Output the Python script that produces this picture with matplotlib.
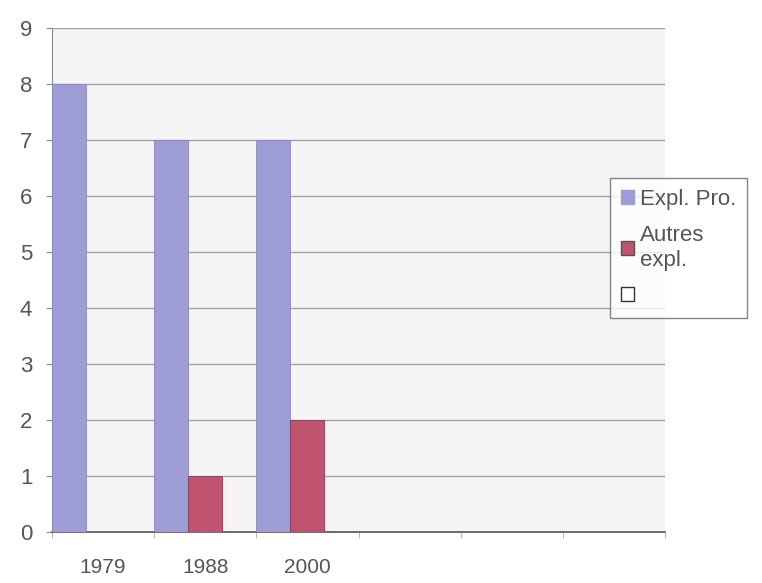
import matplotlib
matplotlib.use("Agg")
import matplotlib.pyplot as plt
import numpy as np
from matplotlib.patches import Patch

categories = ["1979", "1988", "2000", "", "", ""]
expl_pro = [8, 7, 7, 0, 0, 0]
autres = [0, 1, 2, 0, 0, 0]
series_names = ["Expl. Pro.", "Autres\nexpl.", ""]

plt.rcParams['font.family'] = ['Liberation Sans', 'DejaVu Sans']

fig = plt.figure(figsize=(7.62, 5.83), dpi=100)
ax = fig.add_axes([0.068, 0.0875, 0.805, 0.8645])

x = np.arange(len(categories))
w = 1/3
blue = '#9d9cd4'
red = '#c05470'
ax.bar(x - w, expl_pro, width=w, color=blue, edgecolor='#8a89c0', linewidth=0.6, zorder=3)
ax.bar(x, autres, width=w, color=red, edgecolor='#8a3a52', linewidth=0.6, zorder=3)

ax.set_xlim(-0.5, len(categories) - 0.5)
ax.set_ylim(0, 9)
ax.set_yticks(range(10))
ax.yaxis.grid(True, color='#a0a0a0', linewidth=1.0, zorder=0)
ax.set_axisbelow(True)
ax.set_facecolor('#f5f5f5')

ax.set_xticks(x)
ax.set_xticklabels(categories)
ax.set_xticks(np.arange(len(categories) + 1) - 0.5, minor=True)
ax.tick_params(axis='x', which='major', length=0, pad=19, labelsize=15, labelcolor='#555555')
ax.tick_params(axis='x', which='minor', length=4, color='#aaaaaa', direction='out')
ax.tick_params(axis='y', length=4, color='#888888', labelsize=16, labelcolor='#555555', pad=10)

for s in ['top', 'right']:
    ax.spines[s].set_visible(False)
ax.spines['left'].set_color('#888888')
ax.spines['bottom'].set_color('#555555')
ax.spines['bottom'].set_linewidth(1.2)

handles = [Patch(facecolor=blue, edgecolor=blue),
           Patch(facecolor=red, edgecolor='#555555'),
           Patch(facecolor='white', edgecolor='#333333')]
leg = fig.legend(handles, series_names, loc='upper left', bbox_to_anchor=(0.80, 0.695),
                 borderaxespad=0, frameon=True, fancybox=False, fontsize=16,
                 handlelength=0.6, handleheight=0.6,
                 handletextpad=0.25, labelspacing=0.7, borderpad=0.5)
leg.get_frame().set_edgecolor('#666666')
leg.get_frame().set_linewidth(1.0)
for t in leg.get_texts():
    t.set_color('#555555')

fig.savefig("out.png", dpi=100)
